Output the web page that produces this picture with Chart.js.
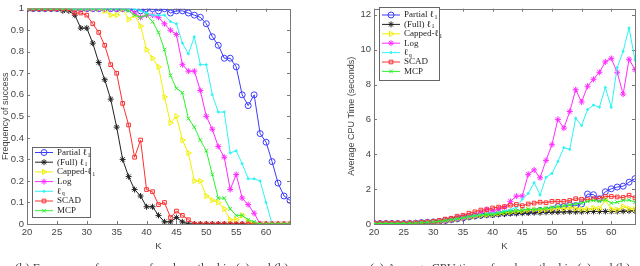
<!DOCTYPE html>
<html lang="en">
<head>
  <meta charset="UTF-8" />
  <title>Success frequency and CPU time</title>
  <script src="https://cdn.jsdelivr.net/npm/chart.js"></script>
  <style>
    body {
      margin: 0;
      background: #fff;
      width: 640px;
      height: 266px;
      overflow: hidden;
      position: relative;
    }
    .panel {
      position: absolute;
      top: 0;
      height: 266px;
    }
    #left { left: 0; width: 300px; }
    #right { left: 320px; width: 320px; }
  </style>
</head>
<body>
  <div class="panel" id="left"><canvas id="succChart" width="300" height="266"></canvas></div>
  <div class="panel" id="right"><canvas id="cpuChart" width="320" height="266"></canvas></div>

  <script>
    // sparsity levels K on the x axis
    const kValues = [20, 21, 22, 23, 24, 25, 26, 27, 28, 29, 30, 31, 32, 33, 34, 35, 36, 37, 38, 39, 40,
      41, 42, 43, 44, 45, 46, 47, 48, 49, 50, 51, 52, 53, 54, 55, 56, 57, 58, 59, 60, 61, 62, 63, 64];
    const xTicks = [20, 25, 30, 35, 40, 45, 50, 55, 60];

    const seriesNames = ["Partial \u2113\u2081", "(Full) \u2113\u2081", "Capped-\u2113\u2081", "Log", "\u2113q", "SCAD", "MCP"];
    // legend text split into main part + subscript
    const legendMain = ["Partial \u2113", "(Full) \u2113", "Capped-\u2113", "Log", "\u2113", "SCAD", "MCP"];
    const legendSub = ["1", "1", "1", "", "q", "", ""];

    // frequency of success (left panel)
    const succPartial = [1, 1, 1, 1, 1, 1, 1, 1, 1, 1, 1, 1, 1, 1, 1, 1, 1, 1, 1, 0.99, 1,
      1, 0.99, 1, 0.98, 0.99, 0.99, 0.98, 0.97, 0.96, 0.93, 0.87, 0.83, 0.77, 0.77, 0.73, 0.60, 0.55, 0.60, 0.42, 0.38,
      0.29, 0.19, 0.13, 0.11];
    const succFull = [1, 1, 1, 1, 1, 1, 0.99, 0.99, 0.97, 0.91, 0.91, 0.84, 0.75, 0.67, 0.58, 0.45, 0.30, 0.22, 0.16, 0.13, 0.08,
      0.08, 0.04, 0.01, 0.01, 0.03, 0.01, 0, 0, 0, 0, 0, 0, 0, 0, 0, 0, 0, 0, 0, 0,
      0, 0, 0, 0];
    const succCapped = [1, 1, 1, 1, 1, 1, 1, 1, 1, 1, 1, 1, 1, 0.99, 0.97, 0.97, 1, 0.95, 0.97, 0.92, 0.81,
      0.77, 0.73, 0.59, 0.47, 0.50, 0.39, 0.33, 0.20, 0.20, 0.13, 0.11, 0.10, 0.07, 0.02, 0.02, 0.04, 0.01, 0, 0, 0,
      0, 0, 0, 0];
    const succLog = [1, 1, 1, 1, 1, 1, 1, 1, 1, 1, 1, 1, 1, 1, 1, 1, 1, 1, 0.98, 0.96, 0.97,
      0.97, 0.96, 0.93, 0.90, 0.88, 0.74, 0.71, 0.71, 0.62, 0.50, 0.44, 0.36, 0.31, 0.16, 0.23, 0.12, 0.09, 0.05, 0, 0,
      0, 0, 0, 0];
    const succLq = [1, 1, 1, 1, 1, 1, 1, 1, 1, 1, 1, 1, 1, 1, 1, 1, 1, 1, 1, 0.99, 0.98,
      0.97, 0.97, 0.97, 0.94, 0.93, 0.84, 0.79, 0.87, 0.74, 0.74, 0.60, 0.52, 0.52, 0.33, 0.34, 0.28, 0.21, 0.21, 0.20, 0.10,
      0, 0, 0, 0];
    const succScad = [1, 1, 1, 1, 1, 1, 1, 1, 0.98, 0.98, 0.97, 0.93, 0.89, 0.83, 0.74, 0.70, 0.56, 0.46, 0.31, 0.39, 0.16,
      0.15, 0.09, 0.10, 0.03, 0.06, 0.04, 0.02, 0, 0, 0, 0, 0, 0, 0, 0, 0, 0, 0, 0, 0,
      0, 0, 0, 0];
    const succMcp = [1, 1, 1, 1, 1, 1, 1, 1, 1, 1, 1, 1, 1, 1, 1, 1, 1, 0.99, 0.97, 0.96, 0.97,
      0.94, 0.89, 0.81, 0.69, 0.63, 0.61, 0.49, 0.45, 0.39, 0.34, 0.23, 0.12, 0.12, 0.07, 0.04, 0.04, 0.02, 0.01, 0, 0,
      0, 0, 0, 0];

    // average CPU time in seconds (right panel)
    const cpuPartial = [0.03, 0.03, 0.03, 0.03, 0.03, 0.03, 0.04, 0.05, 0.08, 0.1, 0.12, 0.15, 0.2, 0.25, 0.3, 0.35, 0.42, 0.47, 0.5, 0.55, 0.55,
      0.6, 0.62, 0.65, 0.68, 0.7, 0.72, 0.75, 0.78, 0.8, 0.85, 1.0, 1.0, 1.1, 1.05, 1.15, 1.72, 1.68, 1.45, 1.85, 2.02,
      2.12, 2.17, 2.4, 2.6];
    const cpuFull = [0.03, 0.03, 0.03, 0.03, 0.03, 0.03, 0.04, 0.05, 0.06, 0.08, 0.1, 0.13, 0.17, 0.22, 0.27, 0.33, 0.38, 0.43, 0.47, 0.5, 0.52,
      0.55, 0.57, 0.6, 0.6, 0.62, 0.63, 0.65, 0.65, 0.67, 0.68, 0.68, 0.7, 0.7, 0.7, 0.7, 0.72, 0.72, 0.72, 0.72, 0.72,
      0.72, 0.73, 0.75, 0.75];
    const cpuCapped = [0.03, 0.03, 0.03, 0.03, 0.03, 0.03, 0.04, 0.05, 0.07, 0.09, 0.11, 0.14, 0.18, 0.23, 0.28, 0.34, 0.4, 0.45, 0.5, 0.53, 0.55,
      0.6, 0.65, 0.68, 0.72, 0.75, 0.8, 0.82, 0.78, 0.82, 0.85, 0.9, 0.88, 0.95, 0.88, 0.85, 0.85, 0.92, 0.88, 1.38, 0.85,
      0.82, 1.0, 0.88, 0.85];
    const cpuLog = [0.04, 0.04, 0.04, 0.04, 0.04, 0.04, 0.05, 0.06, 0.08, 0.1, 0.12, 0.15, 0.2, 0.25, 0.3, 0.36, 0.43, 0.5, 0.65, 0.85, 0.75,
      0.85, 0.95, 1.3, 1.6, 1.6, 2.85, 3.1, 2.65, 3.65, 4.55, 6.0, 5.5, 6.45, 7.7, 7.0, 7.9, 8.3, 8.7, 9.3, 9.5,
      8.7, 7.45, 9.45, 8.85];
    const cpuLq = [0.03, 0.03, 0.03, 0.03, 0.03, 0.03, 0.04, 0.05, 0.08, 0.1, 0.12, 0.15, 0.2, 0.25, 0.3, 0.35, 0.42, 0.47, 0.52, 0.56, 0.6,
      0.65, 0.75, 0.82, 0.95, 1.43, 1.75, 2.37, 1.66, 2.68, 2.9, 3.58, 4.38, 4.28, 6.07, 5.65, 6.56, 6.82, 6.7, 7.83, 6.69,
      8.98, 9.9, 11.25, 9.4];
    const cpuScad = [0.05, 0.05, 0.05, 0.05, 0.05, 0.05, 0.05, 0.06, 0.1, 0.12, 0.15, 0.2, 0.28, 0.33, 0.45, 0.5, 0.62, 0.7, 0.8, 0.82, 0.92,
      0.97, 1.0, 1.08, 1.12, 1.05, 1.15, 1.2, 1.25, 1.22, 1.3, 1.3, 1.3, 1.35, 1.45, 1.42, 1.4, 1.45, 1.47, 1.58, 1.58,
      1.55, 1.52, 1.65, 1.5];
    const cpuMcp = [0.03, 0.03, 0.03, 0.03, 0.03, 0.03, 0.04, 0.05, 0.08, 0.1, 0.12, 0.15, 0.2, 0.25, 0.3, 0.35, 0.42, 0.48, 0.52, 0.55, 0.55,
      0.62, 0.67, 0.72, 0.75, 0.78, 0.85, 0.82, 0.88, 0.9, 0.95, 1.0, 1.05, 1.1, 1.15, 1.2, 1.3, 1.35, 1.3, 1.4, 1.2,
      1.25, 1.35, 1.38, 1.25];

    const colors = ["#3c3cff", "#222222", "#f0f000", "#ff2cff", "#2cf4f4", "#ff3030", "#2ef02e"];
    const markers = [
      { pointStyle: "circle", radius: 3, rotation: 0, fill: false },
      { pointStyle: "star", radius: 3, rotation: 0, fill: false },
      { pointStyle: "triangle", radius: 3, rotation: 90, fill: false },
      { pointStyle: "star", radius: 3, rotation: 0, fill: false },
      { pointStyle: "circle", radius: 1, rotation: 0, fill: true },
      { pointStyle: "rect", radius: 2.6, rotation: 0, fill: false },
      { pointStyle: "crossRot", radius: 2.6, rotation: 0, fill: false }
    ];

    function makeDatasets(seriesList) {
      return seriesList.map((vals, i) => ({
        label: seriesNames[i],
        data: kValues.map((k, j) => ({ x: k, y: vals[j] })),
        borderColor: colors[i],
        backgroundColor: colors[i],
        pointBackgroundColor: markers[i].fill ? colors[i] : "rgba(0,0,0,0)",
        pointBorderColor: colors[i],
        pointStyle: markers[i].pointStyle,
        pointRadius: markers[i].radius,
        pointRotation: markers[i].rotation,
        pointBorderWidth: 1,
        borderWidth: 1,
        tension: 0,
        order: seriesList.length - i
      }));
    }

    // matlab style box with inward ticks
    const boxPlugin = {
      id: "box",
      beforeDatasetsDraw(chart) {
        const { ctx, chartArea: a, scales } = chart;
        ctx.save();
        ctx.strokeStyle = "#777";
        ctx.lineWidth = 1;
        ctx.strokeRect(Math.round(a.left) + 0.5, Math.round(a.top) + 0.5,
          Math.round(a.right - a.left), Math.round(a.bottom - a.top));
        ctx.beginPath();
        scales.x.ticks.forEach(t => {
          const x = Math.round(scales.x.getPixelForValue(t.value)) + 0.5;
          ctx.moveTo(x, a.bottom); ctx.lineTo(x, a.bottom - 3);
          ctx.moveTo(x, a.top); ctx.lineTo(x, a.top + 3);
        });
        scales.y.ticks.forEach(t => {
          const y = Math.round(scales.y.getPixelForValue(t.value)) + 0.5;
          ctx.moveTo(a.left, y); ctx.lineTo(a.left + 3, y);
          ctx.moveTo(a.right, y); ctx.lineTo(a.right - 3, y);
        });
        ctx.stroke();
        ctx.restore();
      },
      afterDraw(chart, args, opts) {
        const ctx = chart.ctx;
        const lg = opts.legend;
        ctx.save();
        // legend box
        ctx.fillStyle = "#fff";
        ctx.fillRect(lg.x, lg.y, lg.w, lg.h);
        ctx.strokeStyle = "#666";
        ctx.lineWidth = 1;
        ctx.strokeRect(lg.x + 0.5, lg.y + 0.5, lg.w, lg.h);
        chart.data.datasets.forEach((ds, i) => {
          const y = lg.y + lg.first + i * lg.pitch;
          ctx.strokeStyle = ds.borderColor;
          ctx.fillStyle = ds.pointBackgroundColor;
          ctx.lineWidth = 1;
          ctx.beginPath();
          ctx.moveTo(lg.x + 3, y);
          ctx.lineTo(lg.x + 21, y);
          ctx.stroke();
          Chart.helpers.drawPoint(ctx, {
            pointStyle: ds.pointStyle, radius: ds.pointRadius,
            rotation: ds.pointRotation, borderWidth: 1
          }, lg.x + 12, y);
          ctx.fillStyle = "#222";
          ctx.font = "9px 'Liberation Serif', serif";
          ctx.textBaseline = "middle";
          ctx.fillText(legendMain[i], lg.x + 25, y);
          if (legendSub[i]) {
            const w = ctx.measureText(legendMain[i]).width;
            ctx.font = "6px 'Liberation Serif', serif";
            ctx.fillText(legendSub[i], lg.x + 25 + w + 0.5, y + 2.5);
          }
        });
        // caption, cut by the bottom edge as in the source figure
        ctx.fillStyle = "#444";
        ctx.font = "12.5px 'Liberation Serif', serif";
        ctx.textBaseline = "alphabetic";
        ctx.fillText(opts.caption, opts.captionX, 272);
        ctx.restore();
      }
    };

    const tickFont = { size: 9.5, family: "'Liberation Sans', sans-serif" };

    function baseOptions(cfg) {
      return {
        responsive: false,
        animation: false,
        layout: { padding: cfg.padding },
        plugins: {
          legend: { display: false },
          tooltip: { enabled: false },
          box: cfg.box
        },
        scales: {
          x: {
            type: "linear",
            min: 20,
            max: 64,
            afterBuildTicks: s => { s.ticks = xTicks.map(v => ({ value: v })); },
            afterFit: s => { s.height = 28; },
            grid: { display: false, drawTicks: false, tickLength: 0 },
            border: { display: false },
            ticks: { color: "#444", font: tickFont, padding: 3, maxRotation: 0 },
            title: { display: true, text: "K", color: "#444", font: tickFont, padding: { top: 0, bottom: 0 } }
          },
          y: {
            min: cfg.yMin,
            max: cfg.yMax,
            afterBuildTicks: s => { s.ticks = cfg.yTicks.map(v => ({ value: v })); },
            afterFit: s => { s.width = cfg.yWidth; },
            grid: { display: false, drawTicks: false, tickLength: 0 },
            border: { display: false },
            ticks: { color: "#444", font: tickFont, padding: 3, callback: v => String(Number(v.toFixed(2))) },
            title: { display: true, text: cfg.yTitle, color: "#444", font: { size: 9, family: "'Liberation Sans', sans-serif" }, padding: { top: 0, bottom: 2 } }
          }
        }
      };
    }

    document.addEventListener("DOMContentLoaded", () => {
      new Chart(document.getElementById("succChart"), {
        type: "line",
        data: { datasets: makeDatasets([succPartial, succFull, succCapped, succLog, succLq, succScad, succMcp]) },
        options: baseOptions({
          padding: { top: 3, right: 10, bottom: 14, left: 0 },
          yMin: 0, yMax: 1,
          yTicks: [0, 0.1, 0.2, 0.3, 0.4, 0.5, 0.6, 0.7, 0.8, 0.9, 1],
          yWidth: 27,
          yTitle: "Frequency of success",
          box: {
            legend: { x: 32, y: 147, w: 58, h: 70, first: 5.5, pitch: 9.7 },
            caption: "(b) Frequency of success of each method in (a) and (b)",
            captionX: 15
          }
        }),
        plugins: [boxPlugin]
      });

      new Chart(document.getElementById("cpuChart"), {
        type: "line",
        data: { datasets: makeDatasets([cpuPartial, cpuFull, cpuCapped, cpuLog, cpuLq, cpuScad, cpuMcp]) },
        options: baseOptions({
          padding: { top: 3, right: 2, bottom: 14, left: 26 },
          yMin: 0, yMax: 12.35,
          yTicks: [0, 2, 4, 6, 8, 10, 12],
          yWidth: 28,
          yTitle: "Average CPU Time (seconds)",
          box: {
            legend: { x: 59, y: 7, w: 60, h: 73, first: 8, pitch: 9.4 },
            caption: "(c) Average CPU time of each method in (a) and (b)",
            captionX: 50
          }
        }),
        plugins: [boxPlugin]
      });
    });
  </script>
</body>
</html>
